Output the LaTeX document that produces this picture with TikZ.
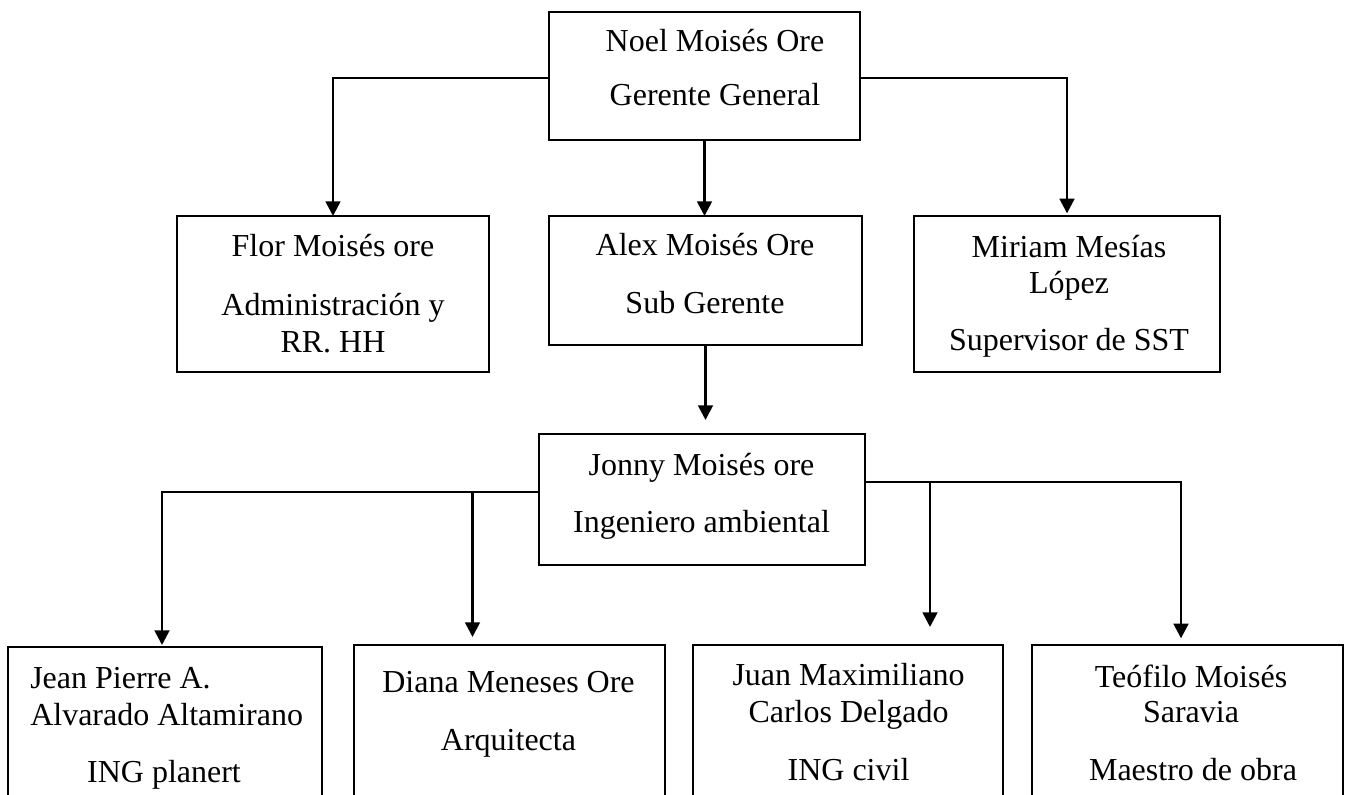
\documentclass[tikz,border=0pt]{standalone}
\usepackage{fontspec}
\setmainfont{Liberation Serif}
\usetikzlibrary{arrows.meta,calc}
\begin{document}
\begin{tikzpicture}[x=0.75pt,y=-0.75pt,
  box/.style={draw, line width=2pt, inner sep=0pt, outer sep=0pt},
  txt/.style={anchor=base, inner sep=0pt, font=\fontsize{24}{28}\selectfont},
  txtl/.style={txt, anchor=base west},
  arr/.style={line width=2pt, -{Triangle[length=11pt,width=11pt]}}]
\useasboundingbox (0,0) rectangle (1351,794);
\clip (0,0) rectangle (1351,794);
% boxes
\node[box, minimum width=233.25pt, minimum height=96pt] (top) at (704.5,76) {};
\node[box, minimum width=234pt, minimum height=117pt] (flor) at (333,294) {};
\node[box, minimum width=234.75pt, minimum height=96.75pt] (alex) at (705.5,280.5) {};
\node[box, minimum width=229.5pt, minimum height=117pt] (miriam) at (1067,294) {};
\node[box, minimum width=244.5pt, minimum height=98.25pt] (jonny) at (702,499.5) {};
\node[box, minimum width=235.5pt, minimum height=150pt] (jean) at (165,747) {};
\node[box, minimum width=233.25pt, minimum height=150pt] (diana) at (509.5,745) {};
\node[box, minimum width=232.5pt, minimum height=150pt] (juan) at (848,745) {};
\node[box, minimum width=233.25pt, minimum height=150pt] (teo) at (1187.5,745) {};
% texts
\node[txt] (t1a) at (715,51) {Noel Moisés Ore};
\node[txt] (t1b) at (715,105) {Gerente General};
\node[txt] (t2a) at (333,256) {Flor Moisés ore};
\node[txt] (t2b) at (333,315) {Administración y};
\node[txt] (t2c) at (333,352) {RR. HH};
\node[txt] (t3a) at (705,255) {Alex Moisés Ore};
\node[txt] (t3b) at (705,313) {Sub Gerente};
\node[txt] (t4a) at (1069,257) {Miriam Mesías};
\node[txt] (t4b) at (1069,293) {López};
\node[txt] (t4c) at (1069,350) {Supervisor de SST};
\node[txt] (t5a) at (701.5,475) {Jonny Moisés ore};
\node[txt] (t5b) at (701.5,532) {Ingeniero ambiental};
\node[txtl] (t6a) at (30,688) {Jean Pierre A.};
\node[txtl] (t6b) at (30,725) {Alvarado Altamirano};
\node[txt] (t6c) at (164,782) {ING planert};
\node[txt] (t7a) at (508.5,692) {Diana Meneses Ore};
\node[txt] (t7b) at (508.5,750) {Arquitecta};
\node[txt] (t8a) at (848.5,685) {Juan Maximiliano};
\node[txt] (t8b) at (848.5,722) {Carlos Delgado};
\node[txt] (t8c) at (848.5,780) {ING civil};
\node[txt] (t9a) at (1191,687) {Teófilo Moisés};
\node[txt] (t9b) at (1191,722) {Saravia};
\node[txt] (t9c) at (1193,780) {Maestro de obra};
% connectors
\draw[arr] ($(top.west)+(0,2)$) -| (flor.north);
\draw[arr, shorten >=2pt] ($(top.east)+(0,2)$) -| (miriam.north);
\draw[arr] (top.south) -- (top.south |- alex.north);
\draw[arr, shorten >=10.5pt] (alex.south) -- (alex.south |- jonny.north);
\coordinate (jl) at ($(jonny.west)+(0,-7.5)$);
\coordinate (jr) at ($(jonny.east)+(0,-17.5)$);
\coordinate (dj) at (472.5,492);
\coordinate (ju) at (930,482);
\draw[arr, shorten >=1.5pt] (jl) -| ($(jean.north)+(-3,0)$);
\draw[arr, shorten >=6pt] (dj) -- (dj |- diana.north);
\draw[arr, shorten >=5pt] (jr) -| ($(teo.north)+(-6.5,0)$);
\draw[arr, shorten >=13.5pt] (ju) -- (ju |- juan.north);
\end{tikzpicture}
\end{document}
